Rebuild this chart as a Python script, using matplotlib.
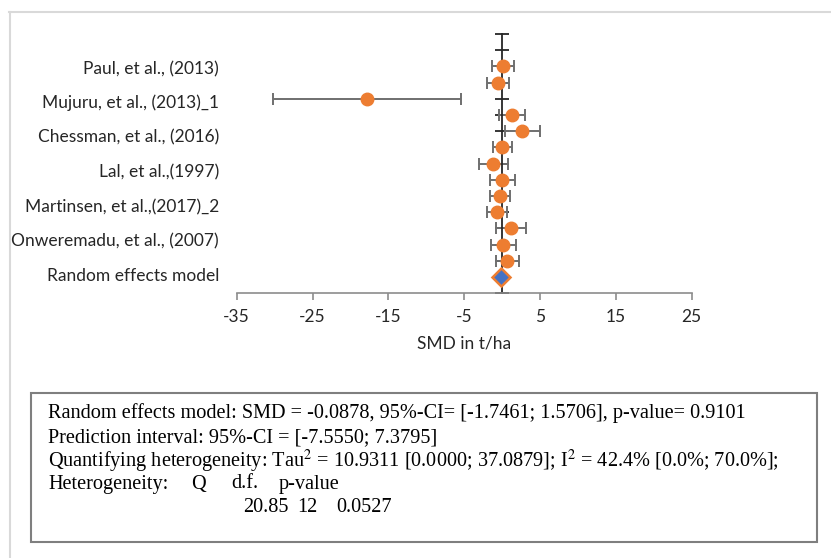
import numpy as np
import matplotlib
matplotlib.use("Agg")
import matplotlib.pyplot as plt
from matplotlib.lines import Line2D
from matplotlib.patches import Rectangle
import matplotlib.transforms as mtrans

# study effects (top to bottom), SMD in t/ha with 95% CI
rows = [14, 13, 12, 11, 10, 9, 8, 7, 6, 5, 4, 3, 2]
smd = [0.18, -0.57, -17.85, 1.27, 2.64, 0.05, -1.19, 0.05, -0.31, -0.70, 1.15, 0.13, 0.66]
ci_lo = [-1.3, -2.0, -30.2, -0.35, 0.4, -1.15, -3.1, -1.6, -1.6, -2.0, -0.8, -1.5, -0.8]
ci_hi = [1.6, 0.9, -5.45, 3.0, 5.0, 1.36, 0.83, 1.7, 1.0, 0.62, 3.1, 1.8, 2.2]
re_row = 1
re_smd = -0.0878

labels = ["Paul, et al., (2013)", "Mujuru, et al., (2013)_1", "Chessman, et al., (2016)",
          "Lal, et al.,(1997)", "Martinsen, et al.,(2017)_2", "Onweremadu, et al., (2007)",
          "Random effects model"]
label_y = [13.83, 11.77, 9.63, 7.45, 5.29, 3.19, 1.07]
xticks = [-35, -25, -15, -5, 5, 15, 25]

ORANGE = "#ED7D31"; BLUE = "#4472C4"; GREY = "#7F7F7F"
SANS = ["Lato", "DejaVu Sans"]
SERIF = ["Liberation Serif", "DejaVu Serif"]

W, H = 831, 558
fig = plt.figure(figsize=(W / 100, H / 100), dpi=100)
px = lambda x, y: (x / W, 1 - y / H)

# thin outer frame (top + left)
fig.add_artist(Line2D([9 / W, 1], [1 - 11.5 / H] * 2, color="#D9D9D9", lw=1.5))
fig.add_artist(Line2D([10 / W] * 2, [0, 1 - 11.5 / H], color="#D9D9D9", lw=1.5))

ax = fig.add_axes([236.7 / W, 1 - 293.3 / H, 455 / W, (293.3 - 34) / H])
ax.set_xlim(-35, 25); ax.set_ylim(0, 16)

err = [np.array(smd) - np.array(ci_lo), np.array(ci_hi) - np.array(smd)]
ax.errorbar(smd, rows, xerr=err, fmt="none", ecolor="#6F6F6F", elinewidth=1.4,
            capsize=4.5, capthick=1.4, zorder=2)
ax.plot(smd, rows, "o", color=ORANGE, ms=9, mec=ORANGE, zorder=3, clip_on=False)
ax.plot([re_smd], [re_row], "D", color=BLUE, ms=9.5, mec=ORANGE, mew=1.8, zorder=4)

for s in ["top", "right"]:
    ax.spines[s].set_visible(False)
ax.spines["left"].set_position(("data", 0))
ax.spines["left"].set_color("#262626"); ax.spines["left"].set_linewidth(1.3)
ax.spines["bottom"].set_color("#8C8C8C"); ax.spines["bottom"].set_linewidth(1.2)
ax.set_yticks(range(0, 17)); ax.set_yticklabels([])
ax.tick_params(axis="y", direction="inout", length=10, width=1.3, color="#262626")
ax.set_xticks(xticks)
ax.set_xticklabels([str(t) for t in xticks], fontsize=12.5, family=SANS, color="#262626")
ax.tick_params(axis="x", direction="out", length=5, width=1.2, color="#8C8C8C", pad=6)
ax.set_xlabel("SMD in t/ha", fontsize=12.5, family=SANS, color="#262626", labelpad=8)

tr = mtrans.blended_transform_factory(ax.transAxes, ax.transData)
for lab, yy in zip(labels, label_y):
    ax.text(-0.039, yy, lab, transform=tr, ha="right", va="center", fontsize=12.5,
            family=SANS, color="#262626")

# statistics box
x0, y0 = px(31, 542)
fig.add_artist(Rectangle((x0, y0), (817 - 31) / W, (542 - 393) / H, transform=fig.transFigure,
                         fill=False, ec=GREY, lw=1.5))
FS = 14.6
lines = ["Random effects model: SMD = -0.0878, 95%-CI= [-1.7461; 1.5706], p-value= 0.9101",
         "Prediction interval: 95%-CI = [-7.5550; 7.3795]",
         r"Quantifying heterogeneity: Tau$^2$ = 10.9311 [0.0000; 37.0879]; I$^2$ = 42.4% [0.0%; 70.0%];"]
line_y = [413, 437.5, 461]
for t, yy in zip(lines, line_y):
    fig.text(*px(48, yy), t, fontsize=FS, family=SERIF, va="center", math_fontfamily="stix")
row4 = [(48, "Heterogeneity:"), (191, "Q"), (231, "d.f."), (279, "p-value")]
row5 = [(243, "20.85"), (297, "12"), (336, "0.0527")]
for xx, t in row4:
    fig.text(*px(xx, 484), t, fontsize=FS, family=SERIF, va="center")
for xx, t in row5:
    fig.text(*px(xx, 507), t, fontsize=FS, family=SERIF, va="center")

fig.savefig("out.png", dpi=100)
